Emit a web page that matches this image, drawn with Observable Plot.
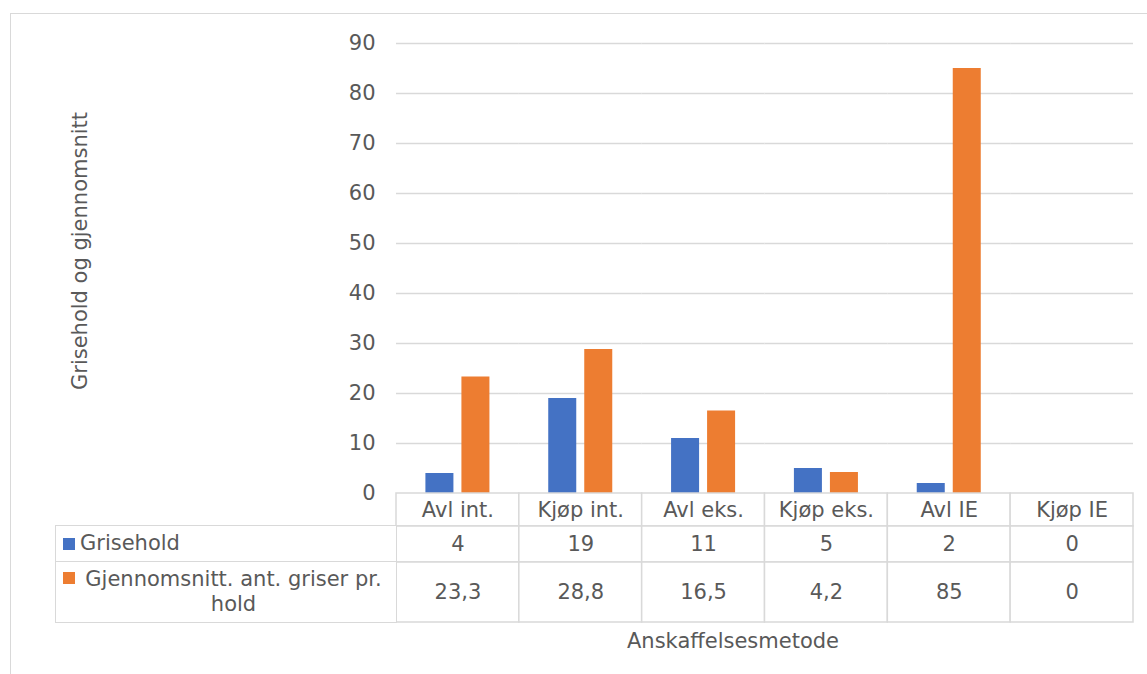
<!DOCTYPE html>
<html>
<head>
<meta charset="utf-8">
<script src="https://cdn.jsdelivr.net/npm/d3@7"></script>
<script src="https://cdn.jsdelivr.net/npm/@observablehq/plot@0.6"></script>
<style>
  html, body { margin: 0; padding: 0; background: #fff; }
  #root { position: relative; width: 1147px; height: 674px; overflow: hidden;
          font-family: "DejaVu Sans", Verdana, sans-serif; color: #595959; background: #fff; }
  #root svg { position: absolute; left: 0; overflow: visible; }
  #root svg text { font-size: 21px; font-family: "DejaVu Sans", Verdana, sans-serif; }
  .abs { position: absolute; white-space: nowrap; font-size: 21px; line-height: 25px; }
</style>
</head>
<body>
<div id="root"></div>
<script>
// ---- data ----
const categories = ["Avl int.", "Kjøp int.", "Avl eks.", "Kjøp eks.", "Avl IE", "Kjøp IE"];
const seriesNames = ["Grisehold", "Gjennomsnitt. ant. griser pr. hold"];
const grisehold = [4, 19, 11, 5, 2, 0];
const gjennomsnitt = [23.3, 28.8, 16.5, 4.2, 85, 0];
const yTicks = [0, 10, 20, 30, 40, 50, 60, 70, 80, 90];
const seriesColors = ["#4472C4", "#ED7D31"];
const yTitle = "Grisehold og gjennomsnitt";
const xTitle = "Anskaffelsesmetode";

// ---- layout constants ----
const W = 1147, plotLeft = 396, plotRight = 14, plotTop = 43, zeroY = 493;
const rowEdges = [0, 33, 69, 129];          // table row boundaries (px below axis)
const rowCenters = [17, 51, 99];
const gridColor = "#d9d9d9", textColor = "#595959";
const fmt = v => String(v).replace(".", ",");

const root = document.getElementById("root");

// outer chart-area border
const border = document.createElement("div");
Object.assign(border.style, { position: "absolute", left: "10px", top: "13px", width: "1200px", height: "700px",
  borderLeft: "1.5px solid " + gridColor, borderTop: "1.5px solid " + gridColor, boxSizing: "border-box" });
root.appendChild(border);

// ---- bar chart ----
const barData = categories.flatMap((c, i) => [
  { cat: c, series: seriesNames[0], value: grisehold[i] },
  { cat: c, series: seriesNames[1], value: gjennomsnitt[i] }
]);

const chart = Plot.plot({
  width: W, height: zeroY + 1,
  marginLeft: plotLeft, marginRight: plotRight, marginTop: plotTop, marginBottom: 1,
  style: { background: "transparent", color: textColor, fontSize: "21px", fontFamily: "DejaVu Sans" },
  facet: { data: barData, x: "cat" },
  fx: { domain: categories, padding: 0, round: false, axis: null, label: null },
  x: { domain: seriesNames, paddingInner: 8 / 36, paddingOuter: 29.4 / 36, round: false, axis: null, label: null },
  y: { domain: [0, 90], ticks: yTicks, tickSize: 0, tickPadding: 21, label: null, tickFormat: d => String(d) },
  color: { domain: seriesNames, range: seriesColors },
  marks: [
    Plot.ruleY(yTicks.filter(d => d > 0), { stroke: gridColor, strokeWidth: 1.5 }),
    Plot.barY(barData, { x: "series", y: "value", fill: "series" })
  ]
});
chart.style.top = "0px";
root.appendChild(chart);

// ---- data table ----
const cells = categories.flatMap(c => [0, 1, 2].map(r => ({ cat: c, y1: rowEdges[r], y2: rowEdges[r + 1] })));
const table = Plot.plot({
  width: W, height: rowEdges[3] + 2,
  marginLeft: plotLeft, marginRight: plotRight, marginTop: 1, marginBottom: 1,
  style: { background: "transparent", color: textColor, fontSize: "21px", fontFamily: "DejaVu Sans" },
  x: { domain: categories, padding: 0, round: false, axis: null, label: null },
  y: { domain: [0, rowEdges[3]], reverse: true, axis: null, label: null },
  marks: [
    Plot.barY(cells, { x: "cat", y1: "y1", y2: "y2", fill: "white", stroke: gridColor, strokeWidth: 1.5 }),
    Plot.text(categories, { x: d => d, y: () => rowCenters[0], text: d => d, fill: textColor }),
    Plot.text(grisehold, { x: (d, i) => categories[i], y: () => rowCenters[1], text: d => fmt(d), fill: textColor }),
    Plot.text(gjennomsnitt, { x: (d, i) => categories[i], y: () => rowCenters[2], text: d => fmt(d), fill: textColor })
  ]
});
table.style.top = (zeroY - 1) + "px";
root.appendChild(table);

// legend column of the data table
function box(left, top, width, height) {
  const d = document.createElement("div");
  Object.assign(d.style, { position: "absolute", left: left + "px", top: top + "px", width: width + "px",
    height: height + "px", border: "1.5px solid " + gridColor, boxSizing: "border-box", background: "#fff" });
  root.appendChild(d);
  return d;
}
box(55, zeroY + rowEdges[1] - 0.75, plotLeft - 55 + 0.75, rowEdges[2] - rowEdges[1] + 1.5);
box(55, zeroY + rowEdges[2] - 0.75, plotLeft - 55 + 0.75, rowEdges[3] - rowEdges[2] + 1.5);

function swatch(top, color) {
  const s = document.createElement("div");
  Object.assign(s.style, { position: "absolute", left: "63px", top: top + "px", width: "12px", height: "12px", background: color });
  root.appendChild(s);
}
swatch(538, seriesColors[0]);
swatch(572, seriesColors[1]);

const l1 = document.createElement("div");
l1.className = "abs";
Object.assign(l1.style, { left: "80px", top: (543 - 12.5) + "px" });
l1.textContent = seriesNames[0];
root.appendChild(l1);

const words = seriesNames[1].split(" ");
const l2 = document.createElement("div");
l2.className = "abs";
Object.assign(l2.style, { left: "76px", top: (579 - 12.5) + "px", width: "315px", textAlign: "center" });
l2.appendChild(document.createTextNode(words.slice(0, -1).join(" ")));
l2.appendChild(document.createElement("br"));
l2.appendChild(document.createTextNode(words[words.length - 1]));
root.appendChild(l2);

// axis titles
const yt = document.createElement("div");
yt.className = "abs";
Object.assign(yt.style, { left: "80px", top: "251px", transform: "translate(-50%,-50%) rotate(-90deg)" });
yt.textContent = yTitle;
root.appendChild(yt);

const xt = document.createElement("div");
xt.className = "abs";
Object.assign(xt.style, { left: "733px", top: "641px", transform: "translate(-50%,-50%)" });
xt.textContent = xTitle;
root.appendChild(xt);
</script>
</body>
</html>
